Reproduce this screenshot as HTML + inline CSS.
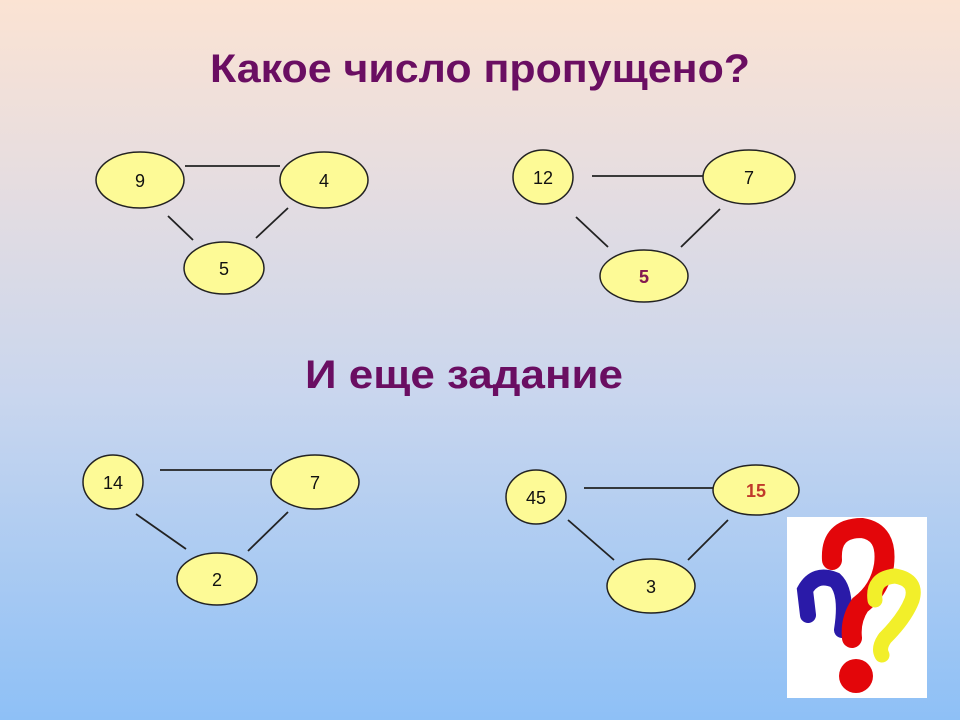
<!DOCTYPE html>
<html><head><meta charset="utf-8"><style>
html,body{margin:0;padding:0}
body{width:960px;height:720px;overflow:hidden;background:linear-gradient(180deg,#fbe3d3 0%,#e6dde0 25%,#c9d6ee 55%,#8ec0f6 100%);}
svg{display:block}
text{font-family:"Liberation Sans","DejaVu Sans",sans-serif}
</style></head><body>
<svg width="960" height="720" xmlns="http://www.w3.org/2000/svg">
<g font-weight="bold" fill="#6a0e62" font-size="40">
<text x="210" y="82" textLength="540" lengthAdjust="spacingAndGlyphs">Какое число пропущено?</text>
<text x="305" y="388" textLength="318" lengthAdjust="spacingAndGlyphs">И еще задание</text>
</g>
<g stroke="#222" stroke-width="1.8">
<line x1="185" y1="166" x2="280" y2="166"/><line x1="168" y1="216" x2="193" y2="240"/><line x1="256" y1="238" x2="288" y2="208"/>
<line x1="592" y1="176" x2="704" y2="176"/><line x1="576" y1="217" x2="608" y2="247"/><line x1="681" y1="247" x2="720" y2="209"/>
<line x1="160" y1="470" x2="272" y2="470"/><line x1="136" y1="514" x2="186" y2="549"/><line x1="248" y1="551" x2="288" y2="512"/>
<line x1="584" y1="488" x2="714" y2="488"/><line x1="568" y1="520" x2="614" y2="560"/><line x1="688" y1="560" x2="728" y2="520"/>
</g>
<g fill="#fdfa96" stroke="#222" stroke-width="1.5">
<ellipse cx="140" cy="180" rx="44" ry="28"/><ellipse cx="324" cy="180" rx="44" ry="28"/><ellipse cx="224" cy="268" rx="40" ry="26"/>
<ellipse cx="543" cy="177" rx="30" ry="27"/><ellipse cx="749" cy="177" rx="46" ry="27"/><ellipse cx="644" cy="276" rx="44" ry="26"/>
<ellipse cx="113" cy="482" rx="30" ry="27"/><ellipse cx="315" cy="482" rx="44" ry="27"/><ellipse cx="217" cy="579" rx="40" ry="26"/>
<ellipse cx="536" cy="497" rx="30" ry="27"/><ellipse cx="756" cy="490" rx="43" ry="25"/><ellipse cx="651" cy="586" rx="44" ry="27"/>
</g>
<g font-size="18" fill="#111" text-anchor="middle">
<text x="140" y="187">9</text><text x="324" y="187">4</text><text x="224" y="275">5</text>
<text x="543" y="184">12</text><text x="749" y="184">7</text>
<text x="113" y="489">14</text><text x="315" y="489">7</text><text x="217" y="586">2</text>
<text x="536" y="504">45</text><text x="651" y="593">3</text>
</g>
<g font-size="18" font-weight="bold" text-anchor="middle">
<text x="644" y="283" fill="#c0392b">5</text><text x="644" y="283" fill="#6a0e62" opacity="0.7">5</text>
<text x="756" y="497" fill="#c0392b">15</text>
</g>
<rect x="787" y="517" width="140" height="181" fill="#fff"/>
<g stroke-linecap="round" fill="none">
<path d="M808 615 L805 590 Q815 572 835 580 Q848 592 842 630" stroke="#2a1aa8" stroke-width="16"/>
<path d="M832 560 Q830 528 862 528 Q888 532 884 565 Q880 590 860 605 Q850 620 852 638" stroke="#e3060a" stroke-width="20"/>
<path d="M875 600 Q872 578 895 576 Q918 580 912 600 Q905 618 885 638 Q878 648 882 655" stroke="#f2ef2a" stroke-width="15"/>
</g>
<circle cx="856" cy="676" r="17" fill="#e3060a"/>
</svg>
</body></html>
